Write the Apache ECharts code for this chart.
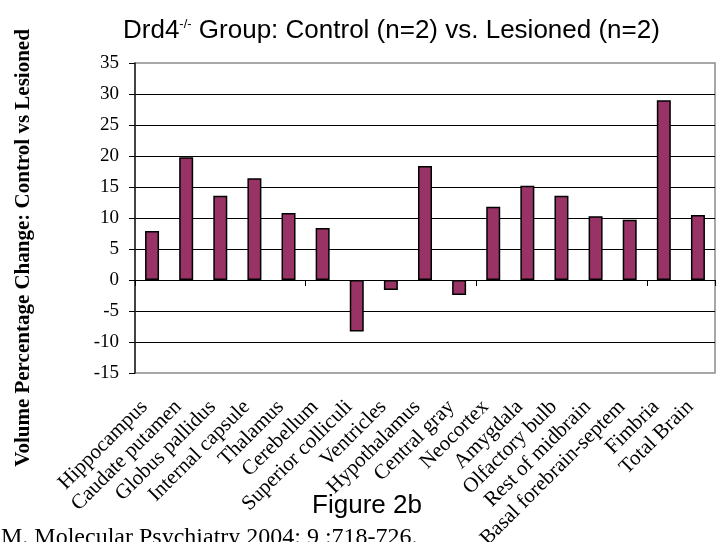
<!DOCTYPE html>
<html>
<head>
<meta charset="utf-8">
<script src="https://cdn.jsdelivr.net/npm/echarts@6/dist/echarts.min.js"></script>
<style>html,body{margin:0;padding:0;background:#fff;}#c{width:722px;height:542px;}</style>
</head>
<body>
<div id="c"></div>
<script>
const categories = ['Hippocampus','Caudate putamen','Globus pallidus','Internal capsule','Thalamus','Cerebellum','Superior colliculi','Ventricles','Hypothalamus','Central gray','Neocortex','Amygdala','Olfactory bulb','Rest of midbrain','Basal forebrain-septem','Fimbria','Total Brain'];
const values = [7.9, 19.8, 13.6, 16.4, 10.8, 8.4, -8.3, -1.6, 18.4, -2.4, 11.8, 15.2, 13.6, 10.3, 9.7, 29.0, 10.5];
const yMin = -15, yMax = 35, yStep = 5;
const yTitle = 'Volume Percentage Change: Control vs Lesioned';
const figureLabel = 'Figure 2b';
const citation = 'M. Molecular Psychiatry 2004: 9 :718-726.';

const chart = echarts.init(document.getElementById('c'));
const serif = '"Liberation Serif","Times New Roman",serif';
const sans = '"Liberation Sans",Arial,sans-serif';
chart.setOption({
  animation: false,
  backgroundColor: '#fff',
  title: {
    text: '{a|Drd4}{s|-/-}{a| Group: Control (n=2) vs. Lesioned (n=2)}',
    left: 118, top: 13,
    textStyle: {
      fontWeight: 'normal',
      rich: {
        a: {fontFamily: sans, fontSize: 26, fontWeight: 'normal', color: '#000'},
        s: {fontFamily: sans, fontSize: 13, fontWeight: 'normal', color: '#000', verticalAlign: 'top', padding: [0, 0, 12, 0]}
      }
    }
  },
  grid: {left: 135, right: 7, top: 63, bottom: 169, outerBoundsMode: 'none', containLabel: false,
         show: true, borderColor: '#8c8c8c', borderWidth: 1.5, backgroundColor: 'transparent'},
  xAxis: [
    {type: 'category', data: categories, position: 'bottom',
     axisLine: {show: false, onZero: false}, axisTick: {show: false},
     axisLabel: {interval: 0, rotate: 45, margin: 23, padding: [0, 11, 0, 0], fontFamily: serif, fontSize: 21, color: '#000'}},
    {type: 'category', data: categories, position: 'bottom',
     axisLine: {show: true, onZero: true, lineStyle: {color: '#000', width: 1}},
     axisTick: {show: true, length: 6, lineStyle: {color: '#000'}},
     axisLabel: {show: false}}
  ],
  yAxis: {
    type: 'value', min: yMin, max: yMax, interval: yStep,
    axisLine: {show: true, lineStyle: {color: '#222', width: 1.5}},
    axisTick: {show: true, length: 6, lineStyle: {color: '#000'}},
    axisLabel: {fontFamily: serif, fontSize: 19, color: '#000', margin: 16},
    splitLine: {show: true, showMinLine: false, showMaxLine: false, lineStyle: {color: '#000', width: 1}}
  },
  series: [{
    type: 'bar', xAxisIndex: 0, data: values, barWidth: '41%',
    itemStyle: {color: '#993366', borderColor: '#000', borderWidth: 1.5}
  }],
  graphic: [
    {type: 'text', x: 24, y: 248, rotation: Math.PI / 2,
     style: {text: yTitle, font: 'bold 21px ' + serif, fill: '#000', align: 'center', verticalAlign: 'middle'}},
    {type: 'text', x: 367, y: 506,
     style: {text: figureLabel, font: '26px ' + sans, fill: '#000', align: 'center', verticalAlign: 'middle'}},
    {type: 'text', x: 1, y: 538,
     style: {text: citation, font: '24px ' + serif, fill: '#000', align: 'left', verticalAlign: 'middle'}}
  ]
});
</script>
</body>
</html>
